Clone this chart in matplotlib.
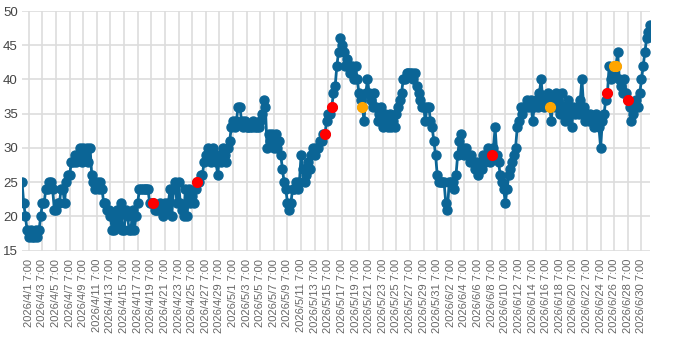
import pandas as pd
import matplotlib
matplotlib.use("Agg")
import matplotlib.pyplot as plt

plt.rcParams["font.family"] = ["Liberation Sans", "DejaVu Sans"]

# 6-hourly readings starting 2026/3/31 7:00
start = "2026-03-31 07:00"
values = [
    25, 22, 20, 18,  17, 18, 17, 17,  18, 17, 18, 20,  22, 22, 24, 24,
    25, 25, 24, 21,  21, 22, 22, 24,  24, 22, 25, 26,  26, 28, 28, 29,
    28, 29, 30, 28,  30, 29, 30, 28,  30, 26, 25, 24,  25, 24, 25, 24,
    22, 22, 21, 21,  20, 18, 18, 19,  21, 20, 22, 18,  18, 21, 20, 18,
    18, 21, 18, 20,  22, 24, 24, 24,  24, 24, 24, 22,  22, 22, 21, 21,
    21, 22, 21, 20,  22, 21, 22, 24,  20, 24, 25, 22,  25, 22, 21, 20,
    24, 20, 24, 22,  23, 22, 24, 25,  25, 26, 26, 28,  29, 30, 29, 28,
    30, 29, 28, 26,  29, 28, 30, 29,  28, 30, 31, 33,  34, 33, 34, 36,
    36, 34, 33, 34,  33, 33, 33, 33,  34, 33, 33, 33,  34, 35, 37, 36,
    30, 32, 31, 32,  30, 32, 30, 31,  29, 27, 25, 24,  22, 21, 22, 24,
    24, 25, 24, 25,  29, 27, 25, 26,  28, 27, 29, 30,  29, 30, 30, 31,
    31, 32, 32, 34,  35, 35, 36, 38,  39, 42, 44, 46,  45, 44, 42, 43,
    42, 41, 42, 40,  42, 40, 38, 37,  36, 34, 38, 40,  38, 37, 36, 38,
    36, 34, 35, 36,  33, 35, 34, 33,  35, 33, 34, 33,  35, 36, 37, 38,
    40, 40, 41, 41,  41, 41, 40, 41,  39, 38, 37, 36,  36, 34, 36, 36,
    34, 33, 31, 29,  26, 25, 25, 25,  25, 22, 21, 25,  25, 25, 24, 26,
    29, 31, 32, 30,  29, 30, 29, 28,  29, 28, 27, 28,  26, 28, 27, 29,
    28, 29, 30, 28,  29, 30, 33, 29,  28, 26, 25, 24,  22, 24, 26, 27,
    28, 29, 30, 33,  34, 36, 35, 36,  36, 37, 36, 37,  34, 36, 37, 36,
    38, 40, 37, 36,  37, 38, 36, 34,  37, 36, 38, 37,  35, 38, 36, 34,
    36, 37, 35, 33,  36, 35, 36, 35,  37, 40, 36, 34,  35, 34, 35, 34,
    33, 35, 34, 33,  30, 34, 35, 37,  38, 42, 40, 41,  42, 42, 44, 40,
    39, 38, 40, 38,  37, 36, 34, 35,  36, 37, 36, 38,  40, 42, 44, 46,
    47, 48,
]

red_times = ["2026-04-19 13:00", "2026-04-26 01:00", "2026-05-14 19:00",
             "2026-05-15 19:00", "2026-06-08 07:00", "2026-06-25 07:00",
             "2026-06-28 07:00"]
red_values = [22, 25, 32, 36, 29, 38, 37]
orange_times = ["2026-05-20 07:00", "2026-06-16 19:00",
                "2026-06-26 07:00", "2026-06-26 13:00"]
orange_values = [36, 36, 42, 42]

tick_labels = pd.date_range("2026-04-01 07:00", "2026-06-30 07:00", freq="2D")

times = pd.date_range(start, periods=len(values), freq="6h")

fig = plt.figure(figsize=(7, 3.48), dpi=100)
ax = fig.add_axes([22 / 700, 97.3 / 348, 628 / 700, 239.7 / 348])

line_color = "#0b6596"
ax.plot(times, values, color=line_color, lw=2, marker="o", ms=6.5,
        mec=line_color, mfc=line_color, zorder=3)
ax.plot(pd.to_datetime(red_times), red_values, "o", color="#ff0000",
        ms=7, zorder=4)
ax.plot(pd.to_datetime(orange_times), orange_values, "o", color="#ffa500",
        ms=7, zorder=4)

ax.set_xlim(times[0], times[-1])
ax.set_ylim(15, 50)
ax.set_yticks(range(15, 51, 5))
ax.set_xticks(tick_labels)
ax.set_xticklabels([f"{t.year}/{t.month}/{t.day} {t.hour}:00" for t in tick_labels],
                   rotation=90, ha="center", va="top", fontsize=8, color="#666666")
for lab in ax.get_yticklabels():
    lab.set_fontsize(9.5)
    lab.set_color("#444444")

ax.grid(True, color="#dddddd", lw=1.2, zorder=0)
ax.set_axisbelow(True)
for s in ax.spines.values():
    s.set_visible(False)
ax.tick_params(length=0, pad=3)
ax.tick_params(axis="x", pad=6)

fig.savefig("out.png", dpi=100)
